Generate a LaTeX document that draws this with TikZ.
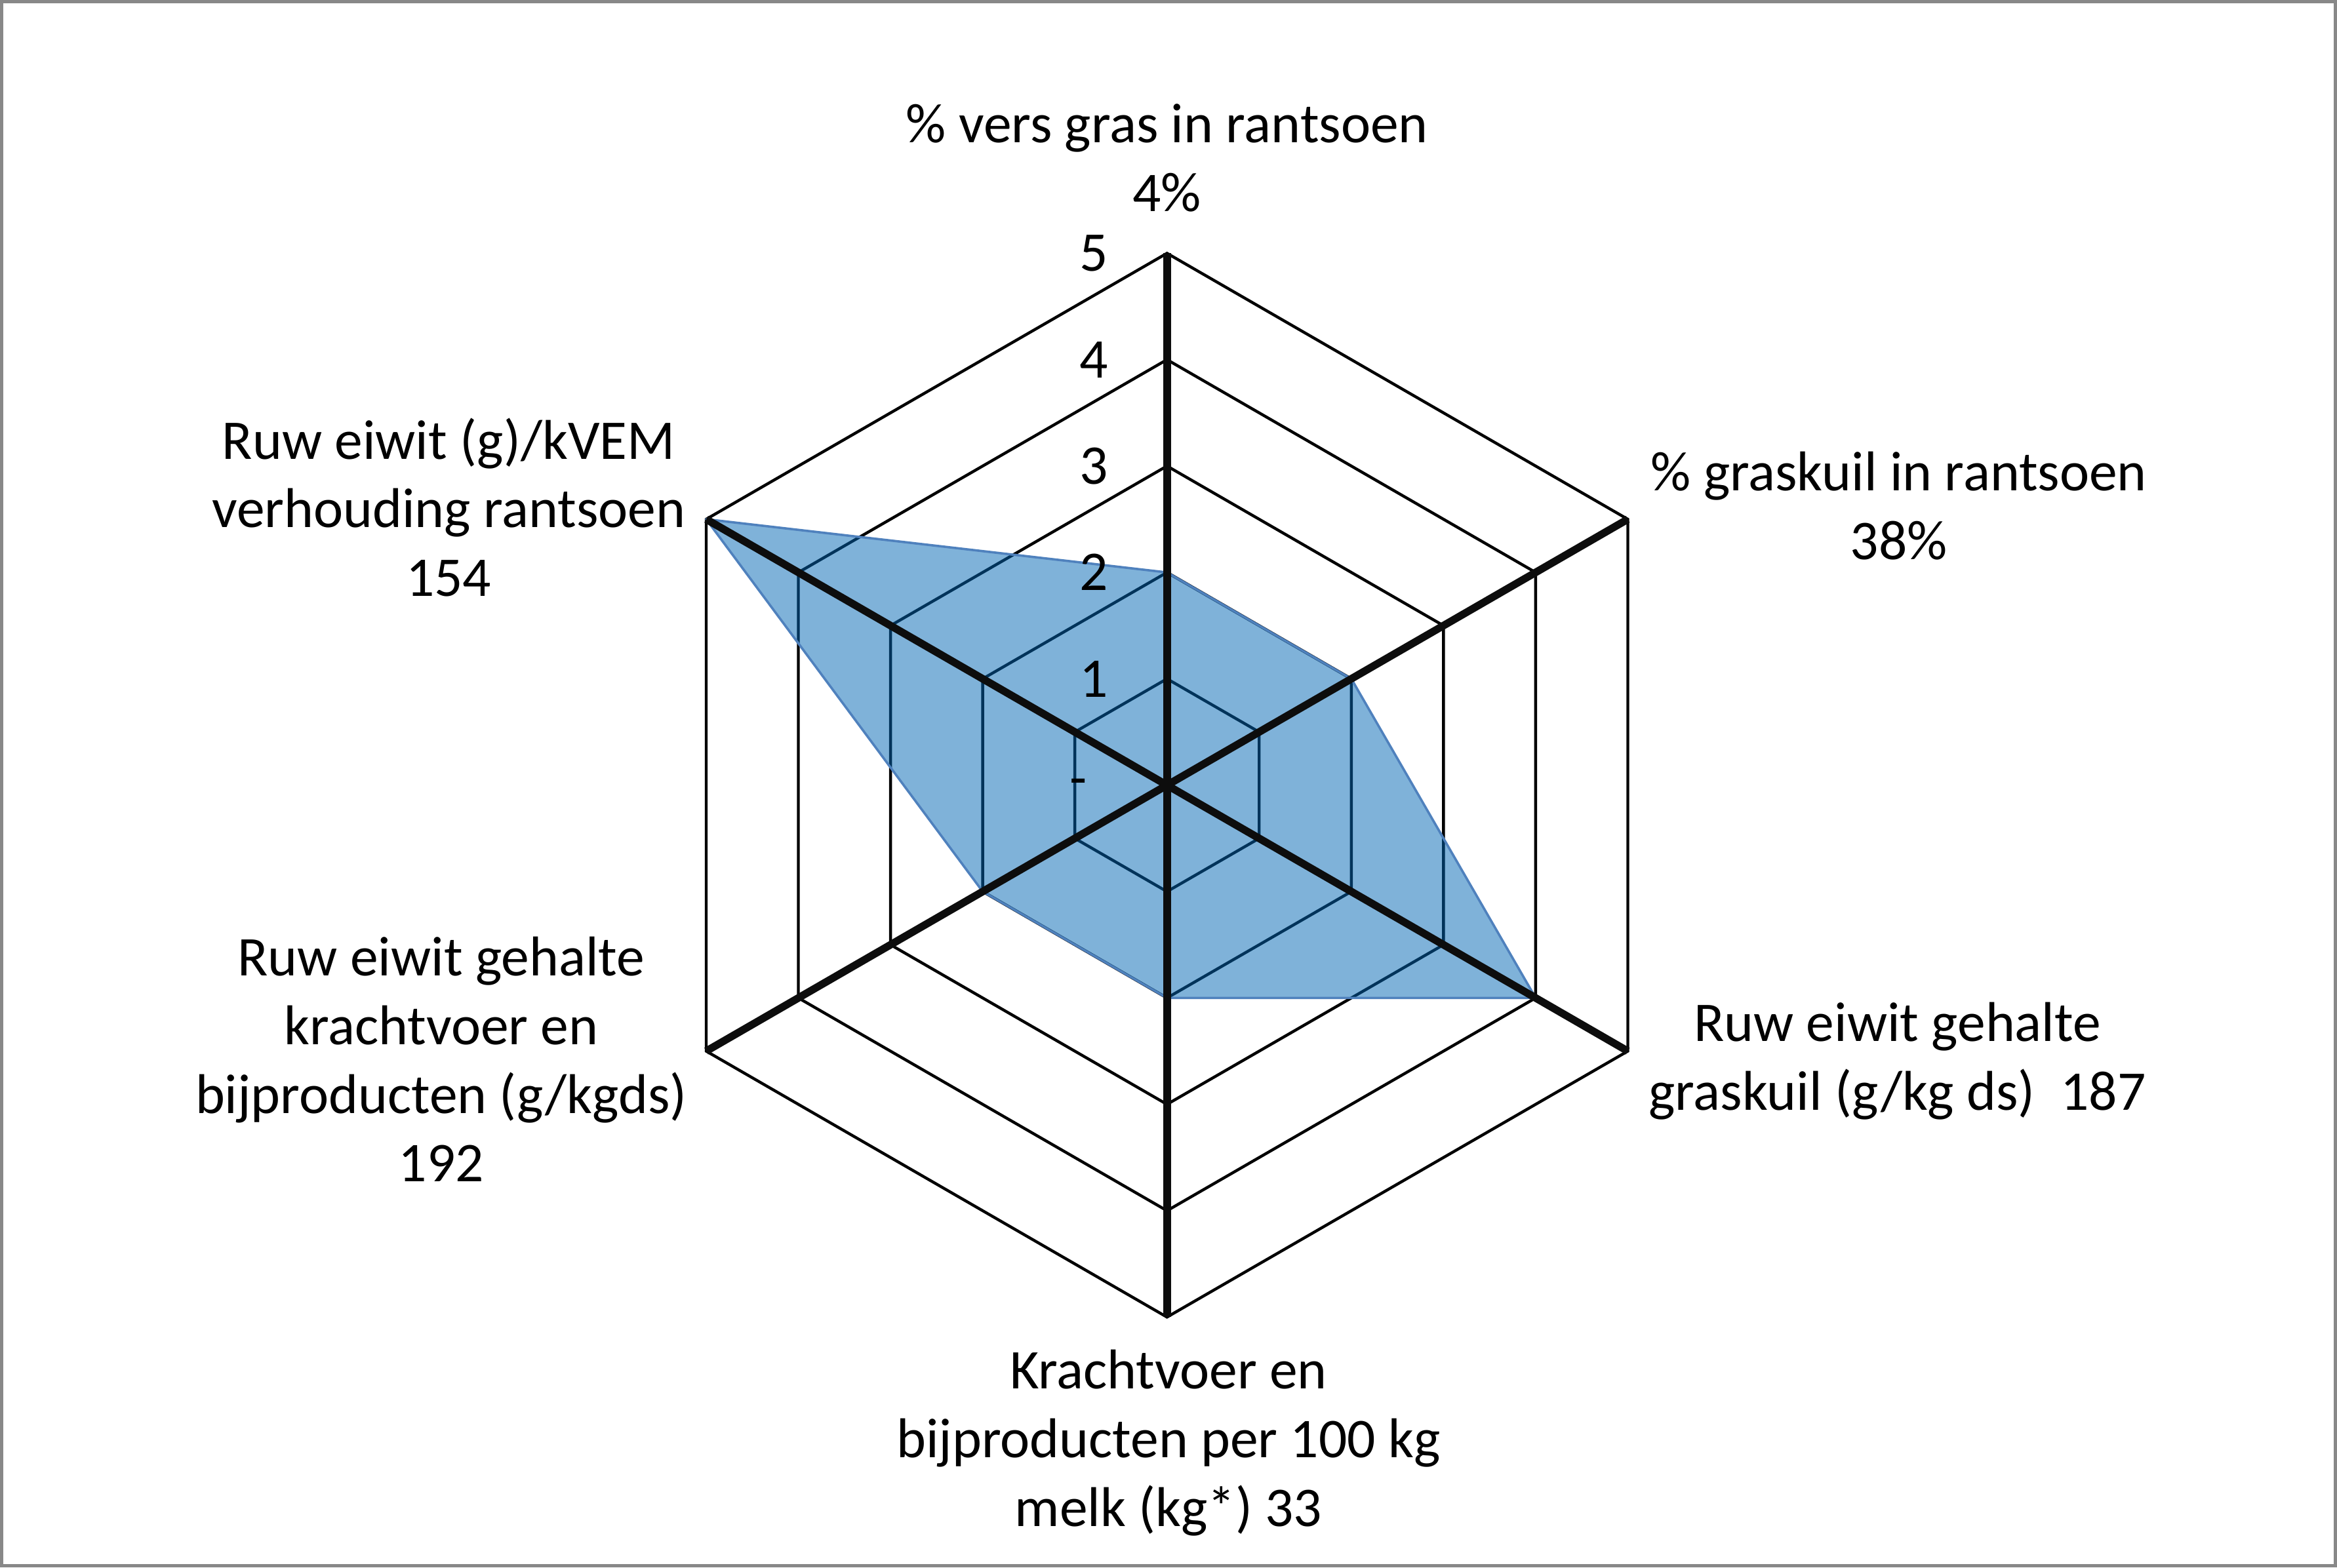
\documentclass[tikz,border=0pt]{standalone}
\usepackage{fontspec}
\setmainfont{Carlito}
\definecolor{framegray}{RGB}{136,136,136}
\definecolor{datafill}{RGB}{0,102,180}
\definecolor{dataline}{RGB}{79,129,189}
\definecolor{axisblack}{RGB}{13,13,13}
\begin{document}
\begin{tikzpicture}[x=0.01cm,y=0.01cm,
  lbl/.style={align=center,inner sep=0pt,font=\fontsize{10.7}{13.1}\selectfont},
  ticklbl/.style={anchor=east,inner sep=0pt,font=\fontsize{10.7}{13.1}\selectfont},
  gridline/.style={draw=black,line width=0.55pt},
  axisline/.style={draw=axisblack,line width=1.45pt},
  dataarea/.style={fill=datafill,fill opacity=0.5,draw=dataline,draw opacity=1,line width=0.45pt,line join=round},
  frame/.style={draw=framegray,line width=0.63pt}]
\useasboundingbox (0,0) rectangle (1568,1052);
\draw[frame] (1.1,1.1) rectangle (1566.9,1050.9);
\coordinate (O) at (783,525);
\begin{scope}[shift={(783,525)}]
  \foreach \k in {1,...,5} {
    \draw[gridline] (90:{71.4*\k}) -- (30:{71.4*\k}) -- (-30:{71.4*\k}) -- (-90:{71.4*\k}) -- (-150:{71.4*\k}) -- (150:{71.4*\k}) -- cycle;
  }
  \coordinate (d1) at (90:{2*71.4});
  \coordinate (d2) at (30:{2*71.4});
  \coordinate (d3) at (-30:{4*71.4});
  \coordinate (d4) at (-90:{2*71.4});
  \coordinate (d5) at (-150:{2*71.4});
  \coordinate (d6) at (150:{5*71.4});
  \draw[dataarea] (d1) -- (d2) -- (d3) -- (d4) -- (d5) -- (d6) -- cycle;
  \coordinate (v1) at (90:357);
  \coordinate (v2) at (30:357);
  \coordinate (v3) at (-30:357);
  \coordinate (v4) at (-90:357);
  \coordinate (v5) at (-150:357);
  \coordinate (v6) at (150:357);
\end{scope}
\foreach \v in {v1,v2,v3,v4,v5,v6} \draw[axisline] (O) -- (\v);
\node[ticklbl] (t5) at (744,{525+5*71.4}) {5};
\node[ticklbl] (t4) at (744,{525+4*71.4}) {4};
\node[ticklbl] (t3) at (744,{525+3*71.4}) {3};
\node[ticklbl] (t2) at (744,{525+2*71.4}) {2};
\node[ticklbl] (t1) at (744,{525+1*71.4}) {1};
\node[ticklbl] (t0) at (730,523) {-};
\node[lbl] (ltop) at (783,946) {\% vers gras in rantsoen\\4\%};
\node[lbl] (lur) at (1274,712.5) {\% graskuil in rantsoen\\38\%};
\node[lbl] (llr) at (1273,340) {Ruw eiwit gehalte\\graskuil (g/kg ds)\ \ 187};
\node[lbl] (lbot) at (784,83.5) {Krachtvoer en\\bijproducten per 100 kg\\melk (kg*) 33};
\node[lbl] (lll) at (296,341) {Ruw eiwit gehalte\\krachtvoer en\\bijproducten (g/kgds)\\192};
\node[lbl] (lul) at (301,711.5) {Ruw eiwit (g)/kVEM\\verhouding rantsoen\\154};
\end{tikzpicture}
\end{document}
